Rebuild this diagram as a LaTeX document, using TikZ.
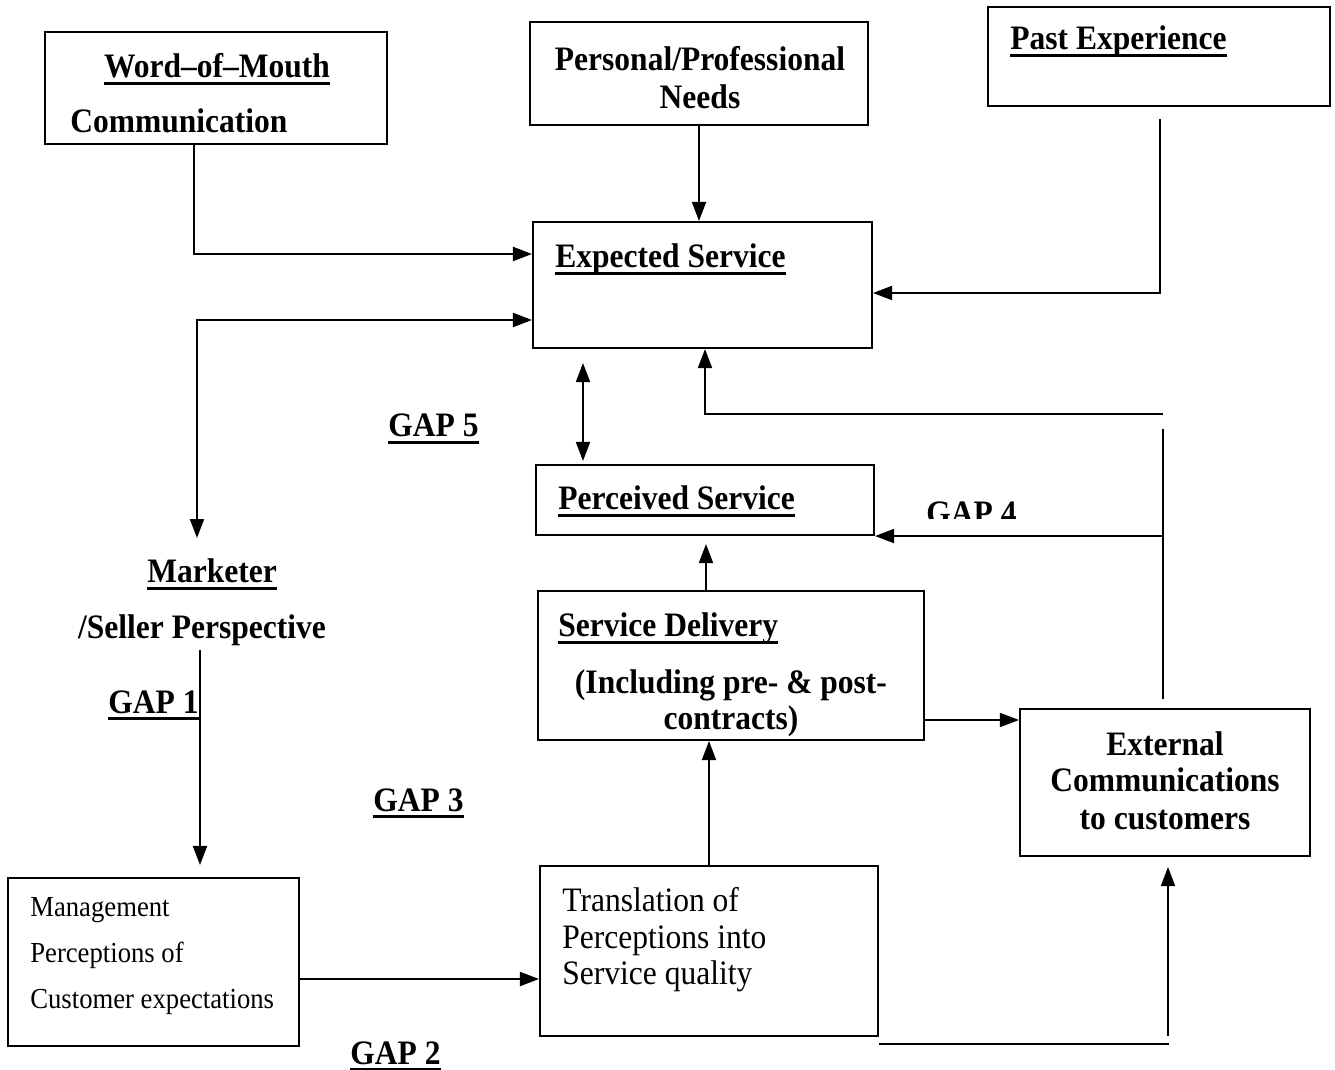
\documentclass[tikz,border=0pt]{standalone}
\usepackage{fontspec}
\setmainfont{Liberation Serif}[FakeStretch=0.92]
\usetikzlibrary{arrows.meta,calc}
\newsavebox\undlbox
\newcommand{\undl}[1]{\sbox\undlbox{#1}\rlap{\rule[-3.8pt]{\wd\undlbox}{1.3pt}}\usebox\undlbox}
\tikzset{
	box/.style={draw, line width=1.2pt, inner sep=0pt},
	hd/.style={inner sep=0pt, font=\fontsize{19.5}{22}\selectfont\bfseries},
	body/.style={inner sep=0pt, font=\fontsize{19.5}{22}\selectfont},
	note/.style={inner sep=0pt, font=\fontsize{16.5}{19}\selectfont},
	link/.style={line width=1.1pt},
	arr/.style={line width=1.1pt, -{Triangle[length=0.38cm,width=0.28cm]}},
	arrs/.style={line width=1.1pt, {Triangle[length=0.38cm,width=0.28cm]}-{Triangle[length=0.38cm,width=0.28cm]}}
}
\begin{document}
\begin{tikzpicture}[x=0.02cm, y=-0.02cm]
			\useasboundingbox (0,0) rectangle (1335,1070);

			% Draw the boxes
			\node[box, minimum width=6.84cm, minimum height=2.24cm] (wom) at (216,88) {};
			\node[box, minimum width=6.76cm, minimum height=2.06cm] (needs) at (699,73.5) {};
			\node[box, minimum width=6.84cm, minimum height=1.98cm] (past) at (1159,56.5) {};
			\node[box, minimum width=6.78cm, minimum height=2.52cm] (exp) at (702.5,285) {};
			\node[box, minimum width=6.76cm, minimum height=1.40cm] (perc) at (705,500) {};
			\node[box, minimum width=7.72cm, minimum height=2.98cm] (deliv) at (731,665.5) {};
			\node[box, minimum width=5.80cm, minimum height=2.94cm] (ext) at (1165,782.5) {};
			\node[box, minimum width=6.76cm, minimum height=3.40cm] (transl) at (709,951) {};
			\node[box, minimum width=5.82cm, minimum height=3.36cm] (mgmt) at (153.5,962) {};

			% Texts of the boxes
			\node[hd, anchor=base] (womA) at (217,78) {\undl{Word--of--Mouth}};
			\node[hd, anchor=base west] (womB) at (70,133) {Communication};
			\node[hd, anchor=base] (needsA) at (700,71) {Personal/Professional};
			\node[hd, anchor=base] (needsB) at (700,109) {Needs};
			\node[hd, anchor=base west] (pastA) at (1010,50) {\undl{Past Experience}};
			\node[hd, anchor=base west] (expA) at (555,268) {\undl{Expected Service}};
			\node[hd, anchor=base west] (percA) at (558,510) {\undl{Perceived Service}};
			\node[hd, anchor=base west] (delivA) at (558,637) {\undl{Service Delivery}};
			\node[hd, anchor=base] (delivB) at (731,693) {(Including pre- \& post-};
			\node[hd, anchor=base] (delivC) at (731,729) {contracts)};
			\node[hd, anchor=base] (extA) at (1165,755) {External};
			\node[hd, anchor=base] (extB) at (1165,791) {Communications};
			\node[hd, anchor=base] (extC) at (1165,829) {to customers};
			\node[body, anchor=base west] (translA) at (562,911) {Translation of};
			\node[body, anchor=base west] (translB) at (562,948) {Perceptions into};
			\node[body, anchor=base west] (translC) at (562,984) {Service quality};
			\node[note, anchor=base west] (mgmtA) at (30,916) {Management};
			\node[note, anchor=base west] (mgmtB) at (30,962) {Perceptions of};
			\node[note, anchor=base west] (mgmtC) at (30,1008) {Customer expectations};

			% Marketer perspective and the gaps
			\node[hd, anchor=base] (markA) at (212,583) {\undl{Marketer}};
			\node[hd, anchor=base] (markB) at (202,639) {/Seller Perspective};
			\node[hd, anchor=base west] (gap5) at (388,437) {\undl{GAP 5}};
			\node[hd, anchor=base west] (gap1) at (108,713) {\undl{GAP 1}};
			\node[hd, anchor=base west] (gap3) at (373,811) {\undl{GAP 3}};
			\node[hd, anchor=base west] (gap2) at (350,1064) {\undl{GAP 2}};
			\begin{scope}
				\clip (900,470) rectangle (1060,519);
				\node[hd, anchor=base west] (gap4) at (926,525) {GAP 4};
			\end{scope}

			\coordinate (mkTop) at (197,538);
			\coordinate (mkBot) at (200,650);
			\coordinate (fbA) at (1163,414);

			% Connectors
			\draw[arr] ($(wom.south)+(-22,0)$) |- ($(exp.west)+(0,-31)$);
			\draw[arrs] (mkTop) |- ($(exp.west)+(0,35)$);
			\draw[arr] (needs.south) -- (needs.south |- exp.north);
			\draw[arr] ($(past.south)+(1,12)$) |- ($(exp.east)+(0,8)$);
			\draw[arrs] ($(exp.south)+(-119.5,14)$) -- ($(perc.north)+(-122,-3)$);
			\draw[arr] (fbA) -| ($(exp.south)+(2.5,0)$);
			\draw[link] ($(ext.north)+(-2,-9)$) -- ($(ext.north)+(-2,-279)$);
			\draw[arr] (perc.south east -| fbA) -- (perc.south east);
			\draw[arr] ($(deliv.north)+(-25,0)$) -- ($(perc.south)+(1,8)$);
			\draw[arr] ($(deliv.east)+(0,54.5)$) -- ($(ext.west)+(0,-62.5)$);
			\draw[arr] (transl.north) -- (transl.north |- deliv.south);
			\draw[arr] ($(mgmt.east)+(0,17)$) -- ($(transl.west)+(0,28)$);
			\draw[arr] (mkBot) -- ($(mgmt.north)+(46.5,-12)$);
			\draw[link] ($(transl.south east)+(0,7)$) -- ++(290,0);
			\draw[arr] ($(ext.south)+(3,179)$) -- ($(ext.south)+(3,10)$);
		\end{tikzpicture}
\end{document}
